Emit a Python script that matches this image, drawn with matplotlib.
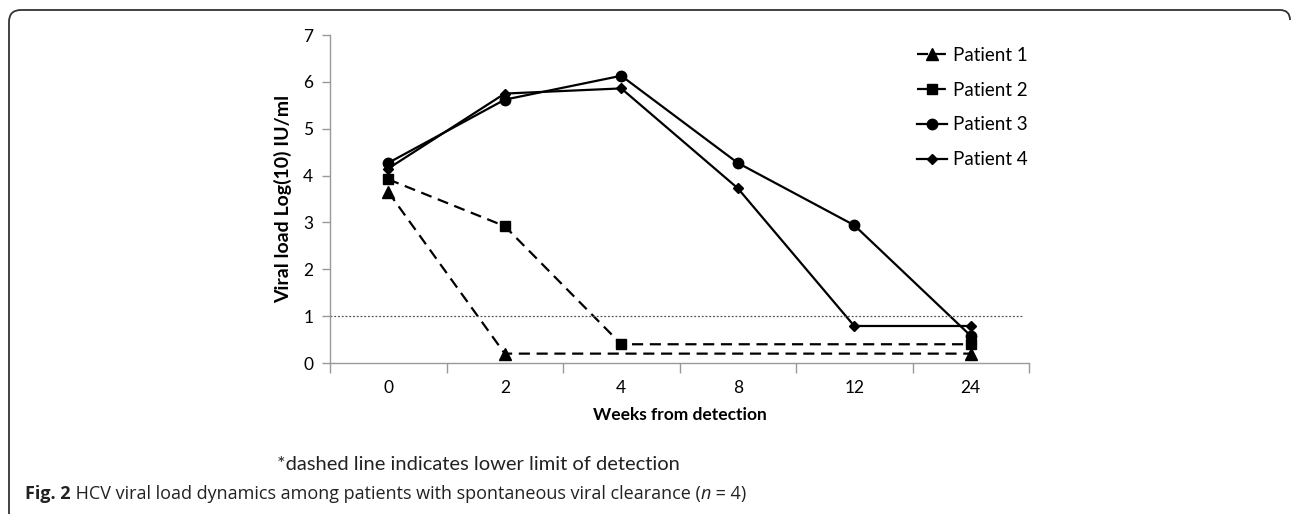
import matplotlib.pyplot as plt
import numpy as np
from matplotlib.path import Path
from matplotlib.patches import PathPatch

weeks = ['0', '2', '4', '8', '12', '24']
patient1 = [3.65, 0.2, None, None, None, 0.2]
patient2 = [3.92, 2.92, 0.4, None, None, 0.4]
patient3 = [4.27, 5.62, 6.13, 4.27, 2.94, 0.58]
patient4 = [4.15, 5.75, 5.86, 3.73, 0.79, 0.79]
detection_limit = 1

W, H = 1292, 514
fig = plt.figure(figsize=(W / 100, H / 100), dpi=100)
ax = fig.add_axes([330/W, 1-363/H, 699/W, 328/H])

chart_font = 'Lato'
cap_font = 'Open Sans'

series = [
    ('Patient 1', patient1, '^', 8, (0, (5, 3))),
    ('Patient 2', patient2, 's', 7, (0, (5, 3))),
    ('Patient 3', patient3, 'o', 7.5, '-'),
    ('Patient 4', patient4, 'D', 5, '-'),
]
for name, vals, mk, ms, ls in series:
    x = [i for i, v in enumerate(vals) if v is not None]
    y = [v for v in vals if v is not None]
    ax.plot(x, y, color='black', lw=1.6, linestyle=ls, marker=mk, ms=ms, label=name)

ax.axhline(detection_limit, xmin=0, xmax=0.99, color='#555555', lw=0.9, linestyle=(0, (1.5, 1.5)))

ax.set_xlim(-0.5, 5.5)
ax.set_ylim(0, 7)
ax.set_xticks(range(len(weeks)))
ax.set_xticklabels(weeks, fontfamily=chart_font, fontsize=12.5)
ax.set_xticks(np.arange(-0.5, 6, 1), minor=True)
ax.tick_params(axis='x', which='major', length=0, pad=12)
ax.tick_params(axis='x', which='minor', length=7, color='#999999', width=1)
ax.set_yticks(range(8))
ax.set_yticklabels([str(i) for i in range(8)], fontfamily=chart_font, fontsize=12.5)
ax.tick_params(axis='y', length=6, color='#999999', width=1, pad=6)
for s in ['top', 'right']:
    ax.spines[s].set_visible(False)
for s in ['left', 'bottom']:
    ax.spines[s].set_color('#999999')
    ax.spines[s].set_linewidth(1)

ax.set_xlabel('Weeks from detection', fontfamily=chart_font, fontweight='bold', fontsize=12.5, labelpad=8)
ax.set_ylabel('Viral load Log(10) IU/ml', fontfamily=chart_font, fontweight='bold', fontsize=14, labelpad=8)

fig.legend(loc='upper left', bbox_to_anchor=(900/W, 1-30/H), frameon=False,
           prop={'family': chart_font, 'size': 13.5}, handlelength=1.6, handletextpad=0.3,
           labelspacing=0.95)

fig.text(277/W, 1-465/H, '*dashed line indicates lower limit of detection',
         fontfamily=chart_font, fontsize=14.5, va='center', color='#222222')

# caption line, pieces placed one after another
renderer = fig.canvas.get_renderer()
xpos = 25
pieces = [('Fig. 2', 'bold', 'normal'),
          (' HCV viral load dynamics among patients with spontaneous viral clearance (', 'normal', 'normal'),
          ('n', 'normal', 'italic'), (' = 4)', 'normal', 'normal')]
for txt, wt, st in pieces:
    t = fig.text(xpos / W, 1-494/H, txt, fontfamily=cap_font, fontweight=wt, fontstyle=st,
                 fontsize=13, va='center', color='#222222')
    xpos += t.get_window_extent(renderer).width

# figure frame (left and top edges, rounded corners)
verts = [(9, 514), (9, 22), (9, 10), (21, 10), (1280, 10), (1290, 10), (1290, 20)]
codes = [Path.MOVETO, Path.LINETO, Path.CURVE3, Path.CURVE3, Path.LINETO, Path.CURVE3, Path.CURVE3]
verts = [(vx / W, 1 - vy / H) for vx, vy in verts]
fig.patches.append(PathPatch(Path(verts, codes), transform=fig.transFigure,
                             fill=False, edgecolor='#333333', lw=1.3))

fig.savefig('out.png', dpi=100)
